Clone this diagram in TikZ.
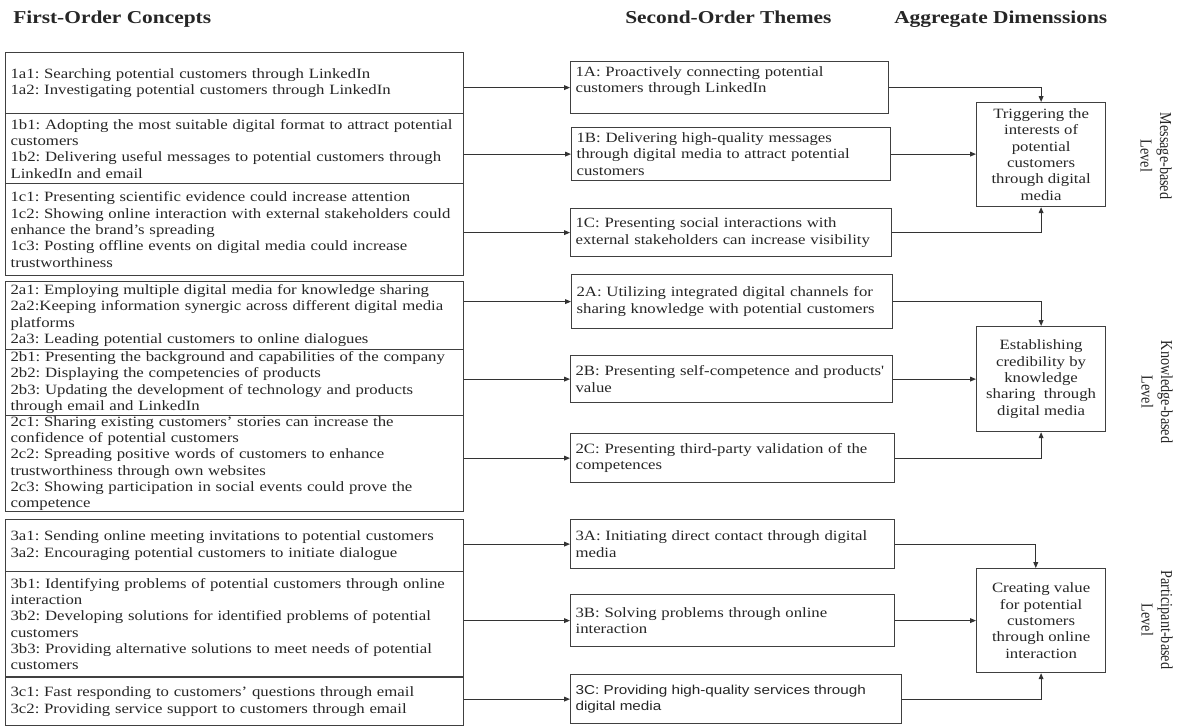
\documentclass[tikz,border=0pt]{standalone}
\usepackage{fontspec}
\setmainfont{Liberation Serif}[FakeStretch=1.18]
% upright labels turned on their side: glyphs taller than wide
\newfontfamily\levelfont{Liberation Serif}[FakeStretch=0.847]
\newfontfamily\sansfam{Liberation Sans}[FakeStretch=1.18]
\usetikzlibrary{arrows.meta}
\frenchspacing
% a justified line spanning the full width of a concept box
\newcommand\jline[1]{\makebox[336pt][s]{#1}}
\begin{document}
\begin{tikzpicture}[x=0.75pt,y=-0.75pt,
  every node/.style={text=black!85},
  bodytext/.style={font=\fontsize{10.65}{12.25}\selectfont},
  concept/.style={bodytext, draw=black!75, line width=0.9pt, anchor=north west,
    inner xsep=3.75pt, inner ysep=0pt, text width=336pt, align=left, minimum height=#1},
  theme/.style 2 args={bodytext, draw=black!75, line width=0.9pt, anchor=north west,
    inner xsep=3.75pt, inner ysep=0pt, text width=#1, align=left, minimum height=#2},
  dimension/.style={bodytext, draw=black!75, line width=0.9pt, anchor=north west,
    inner sep=0pt, minimum width=96.75pt, minimum height=#1, align=center},
  heading/.style={font=\bfseries\fontsize{13.6}{16}\selectfont, anchor=base west, inner sep=0pt},
  level/.style={font=\levelfont\fontsize{12.57}{14.6}\selectfont, rotate=-90, align=center, inner sep=0pt},
  arr/.style={draw=black!80, line width=0.75pt, -{Triangle[length=4.5pt,width=3.6pt]}}
]
\fill[white] (0,0) rectangle (1177,726);
\useasboundingbox (0,0) rectangle (1177,726);

% column headings
\node[heading] (h1) at (13,23) {First-Order Concepts};
\node[heading] (h2) at (625,23) {Second-Order Themes};
\node[heading] (h3) at (894,23) {Aggregate Dimenssions};

% first-order concepts
\node[concept=45.75pt] (c1a) at (5,52) {1a1: Searching potential customers through LinkedIn\\
1a2: Investigating potential customers through LinkedIn};
\node[concept=52.5pt] (c1b) at (5,113) {1b1: Adopting the most suitable digital format to attract potential\\
customers\\
1b2: Delivering useful messages to potential customers through\\
LinkedIn and email};
\node[concept=69pt] (c1c) at (5,183) {1c1: Presenting scientific evidence could increase attention\\
1c2: Showing online interaction with external stakeholders could\\
enhance the brand’s spreading\\
1c3: Posting offline events on digital media could increase\\
trustworthiness};

\node[concept=51pt] (c2a) at (5,281) {2a1: Employing multiple digital media for knowledge sharing\\
\jline{2a2:Keeping information synergic across different digital media}\\
platforms\\
2a3: Leading potential customers to online dialogues};
\node[concept=49.5pt] (c2b) at (5,349) {2b1: Presenting the background and capabilities of the company\\
2b2: Displaying the competencies of products\\
2b3: Updating the development of technology and products\\
through email and LinkedIn};
\node[concept=72pt] (c2c) at (5,415) {2c1: Sharing existing customers’ stories can increase the\\
confidence of potential customers\\
2c2: Spreading positive words of customers to enhance\\
trustworthiness through own websites\\
2c3: Showing participation in social events could prove the\\
competence};

\node[concept=39pt] (c3a) at (5,519) {3a1: Sending online meeting invitations to potential customers\\
3a2: Encouraging potential customers to initiate dialogue};
\node[concept=78.75pt] (c3b) at (5,571) {\jline{3b1: Identifying problems of potential customers through online}\\
interaction\\
\jline{3b2: Developing solutions for identified problems of potential}\\
customers\\
3b3: Providing alternative solutions to meet needs of potential\\
customers};
\node[concept=36pt] (c3c) at (5,677) {3c1: Fast responding to customers’ questions through email\\
3c2: Providing service support to customers through email};

% second-order themes
\node[theme={231pt}{39pt}] (t1A) at (570,61) {1A: Proactively connecting potential\\
customers through LinkedIn\\ \mbox{}};
\node[theme={231.75pt}{39.75pt}] (t1B) at (571,127) {1B: Delivering high-quality messages\\
through digital media to attract potential\\
customers};
\node[theme={233.25pt}{36pt}] (t1C) at (570,208) {1C: Presenting social interactions with\\
external stakeholders can increase visibility};

\node[theme={233.25pt}{40.5pt}] (t2A) at (571,274) {2A: Utilizing integrated digital channels for\\
sharing knowledge with potential customers};
\node[theme={234pt}{35.25pt}] (t2B) at (570,355) {2B: Presenting self-competence and products\textquotesingle\\
value};
\node[theme={235.5pt}{36.75pt}] (t2C) at (570,433) {2C: Presenting third-party validation of the\\
competences};

\node[theme={235.5pt}{36.75pt}] (t3A) at (570,519) {3A: Initiating direct contact through digital\\
media};
\node[theme={235.5pt}{39pt}] (t3B) at (570,594) {3B: Solving problems through online\\
interaction};
\node[theme={240.75pt}{36.75pt}, font=\sansfam\fontsize{9.7}{12.25}\selectfont] (t3C) at (570,674)
  {3C: Providing high-quality services through\\
digital media};

% aggregate dimensions
\node[dimension=78pt] (d1) at (976,102) {Triggering the\\ interests of\\ potential\\ customers\\ through digital\\ media};
\node[dimension=78.75pt] (d2) at (976,326) {Establishing\\ credibility by\\ knowledge\\ sharing~ through\\ digital media};
\node[dimension=78pt] (d3) at (976,568) {Creating value\\ for potential\\ customers\\ through online\\ interaction};

% level labels
\node[level] (l1) at (1156,156) {Message-based\\ Level};
\node[level] (l2) at (1157,392) {Knowledge-based\\ Level};
\node[level] (l3) at (1157,620) {Participant-based\\ Level};

% concepts to themes
\foreach \c/\t in {c1a/t1A, c1b/t1B, c1c/t1C, c2a/t2A, c2b/t2B, c2c/t2C, c3a/t3A, c3b/t3B, c3c/t3C}
  \draw[arr] (\c.east |- \t.west) -- (\t.west);

% themes to dimensions
\draw[arr] (t1A.east) -| (d1.north);
\draw[arr] (t1B.east) -- (d1.west |- t1B.east);
\draw[arr] (t1C.east) -| (d1.south);
\draw[arr] (t2A.east) -| (d2.north);
\draw[arr] (t2B.east) -- (d2.west |- t2B.east);
\draw[arr] (t2C.east) -| (d2.south);
\draw[arr] (t3A.east) -| ([xshift=-4pt]d3.north);
\draw[arr] (t3B.east) -- (d3.west |- t3B.east);
\draw[arr] (t3C.east) -| (d3.south);
\end{tikzpicture}
\end{document}
